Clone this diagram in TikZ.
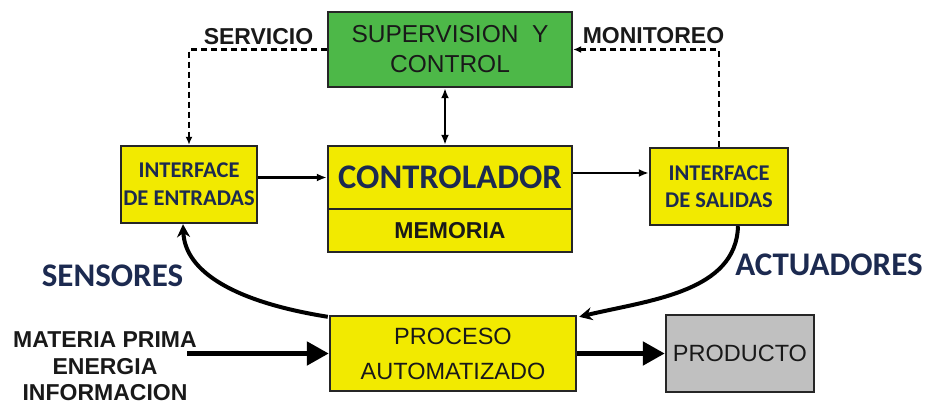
\documentclass[tikz,border=0pt]{standalone}
\usepackage{fontspec}
\setmainfont{Liberation Sans}
\newfontfamily\calib{Carlito}
\usetikzlibrary{arrows.meta,calc}
\definecolor{supgreen}{RGB}{77,184,72}
\definecolor{boxyellow}{RGB}{242,234,0}
\definecolor{boxgray}{RGB}{192,192,192}
\definecolor{navy}{RGB}{28,42,80}
\definecolor{txtdark}{RGB}{25,25,25}
\tikzset{
  blk/.style={draw=black!85, line width=2.4pt, inner sep=0pt, align=center, text=txtdark},
  thin/.style={line width=2.2pt, -{Latex[length=10pt,width=8pt]}},
  dsh/.style={line width=2.4pt, dash pattern=on 6pt off 4pt, -{Latex[length=8pt,width=7pt]}},
  curv/.style={line width=4pt, -{Stealth[length=13pt,width=13pt]}},
  thick/.style={line width=5pt, -{Triangle[length=22pt,width=23pt]}},
  lbl/.style={inner sep=0pt, text=txtdark, font=\bfseries\fontsize{23}{26.5}\selectfont, align=center},
  big/.style={inner sep=0pt, text=navy, font=\calib\bfseries\fontsize{33}{36}\selectfont}
}
\begin{document}
\begin{tikzpicture}[x=1pt,y=-1pt]
\useasboundingbox (0,0) rectangle (932,406);
% boxes
\node[blk, fill=supgreen, minimum width=244pt, minimum height=75pt,
      font=\fontsize{24.5}{30}\selectfont] (sup) at (450,49.5) {SUPERVISION\ \ Y\\CONTROL};
\node[blk, fill=boxyellow, minimum width=244pt, minimum height=63pt,
      font=\calib\bfseries\fontsize{34.5}{38}\selectfont, text=navy] (ctrl) at (450,177.5) {CONTROLADOR};
\node[blk, fill=boxyellow, minimum width=244pt, minimum height=43pt,
      font=\bfseries\fontsize{23}{26}\selectfont] (mem) at (450,230.5) {MEMORIA};
\node[blk, fill=boxyellow, minimum width=136pt, minimum height=77pt,
      font=\calib\bfseries\fontsize{22.5}{28}\selectfont, text=navy] (ent) at (189,184.5) {INTERFACE\\DE ENTRADAS};
\node[blk, fill=boxyellow, minimum width=138pt, minimum height=77pt,
      font=\calib\bfseries\fontsize{22.5}{27}\selectfont, text=navy] (sal) at (719,186.5) {INTERFACE\\DE SALIDAS};
\node[blk, fill=boxyellow, minimum width=246pt, minimum height=75pt,
      font=\fontsize{23.5}{35}\selectfont] (proc) at (453,353.5) {PROCESO\\AUTOMATIZADO};
\node[blk, fill=boxgray, minimum width=148pt, minimum height=77pt,
      font=\fontsize{23.5}{26}\selectfont] (prod) at (740,353.5) {PRODUCTO};
% labels
\node[lbl] (serv) at (258.5,36.5) {SERVICIO};
\node[lbl] (mon) at (653.5,36) {MONITOREO};
\node[big] (sens) at (112.5,276) {SENSORES};
\node[big] (act) at (829,265) {ACTUADORES};
\node[lbl] (inp) at (105,366.5) {MATERIA PRIMA\\ENERGIA\\INFORMACION};
\coordinate (src) at (187,353.5);
% connectors
\draw[dsh] (sup.west) -| (ent.north);
\draw[dsh] (sal.north) |- (sup.east);
\draw[line width=2.2pt, {Latex[length=10pt,width=8pt]}-{Latex[length=10pt,width=8pt]}]
  ([xshift=-5pt]sup.south) -- ([xshift=-5pt]ctrl.north);
\draw[thin] (ent.east |- ctrl.west) -- (ctrl.west);
\draw[thin] ([yshift=4.5pt]ctrl.east) -- ([yshift=4.5pt]ctrl.east -| sal.west);
\draw[curv] ([xshift=-1pt,yshift=-2pt]proc.north west) .. controls (235,302) and (185,272) .. ([xshift=-6pt]ent.south);
\draw[curv] ([xshift=19pt]sal.south) .. controls (736,292) and (650,300) .. ([xshift=2pt,yshift=-2pt]proc.north east);
\draw[thick] (src) -- (proc.west);
\draw[thick] (proc.east) -- (prod.west);
\end{tikzpicture}
\end{document}
